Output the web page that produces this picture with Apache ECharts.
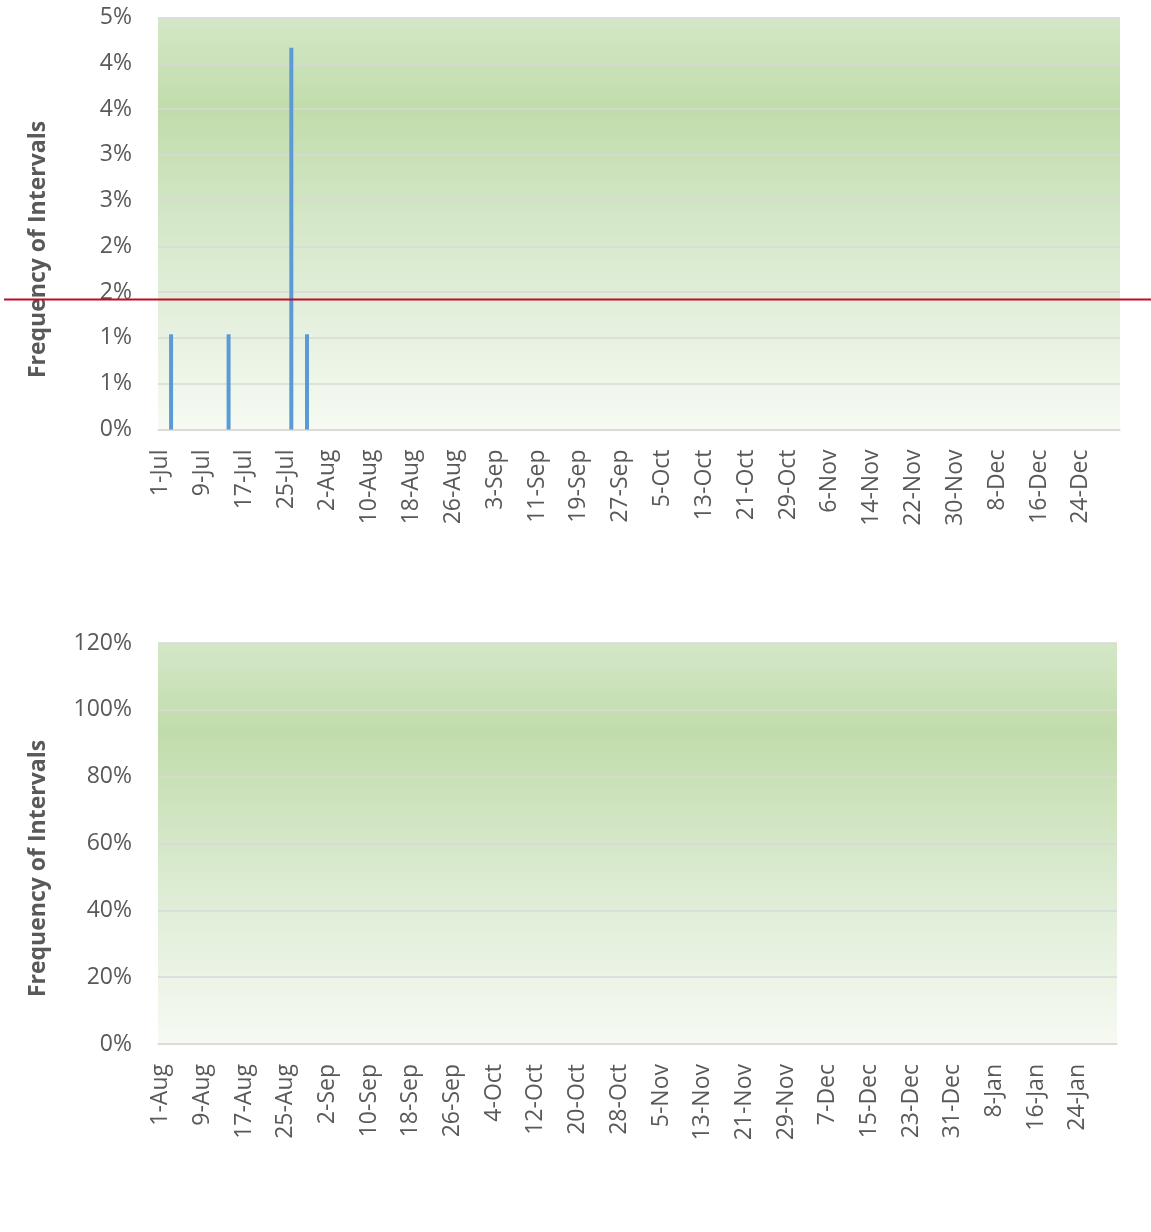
<!DOCTYPE html>
<html>
<head>
<meta charset="utf-8">
<title>Frequency of Intervals</title>
<script src="https://cdn.jsdelivr.net/npm/echarts@6/dist/echarts.min.js"></script>
<style>
  html, body { margin: 0; padding: 0; background: #fff; }
  #chart { width: 1151px; height: 1232px; }
</style>
</head>
<body>
<div id="chart"></div>
<script>
// --- data ---
const monthNames = ['Jan', 'Feb', 'Mar', 'Apr', 'May', 'Jun', 'Jul', 'Aug', 'Sep', 'Oct', 'Nov', 'Dec']

// top chart: 1-Jul .. 31-Dec
const topStart = [2020, 6, 1]
const topDayCount = 184
const topHitDays = ['3-Jul', '14-Jul', '26-Jul', '29-Jul']
const topHitValues = [0.0104, 0.0104, 0.0417, 0.0104]
const topYLabels = ['0%', '1%', '1%', '2%', '2%', '3%', '3%', '4%', '4%', '5%']
const thresholdValue = 0.0142

// bottom chart: 1-Aug .. 31-Jan (no data)
const bottomStart = [2020, 7, 1]
const bottomDayCount = 184
const bottomHitDays = []
const bottomHitValues = []
const bottomYLabels = ['0%', '20%', '40%', '60%', '80%', '100%', '120%']

function dayLabels(start, count) {
  const out = []
  const d = new Date(start[0], start[1], start[2])
  for (let i = 0; i < count; i++) {
    out.push(d.getDate() + '-' + monthNames[d.getMonth()])
    d.setDate(d.getDate() + 1)
  }
  return out
}

const topDays = dayLabels(topStart, topDayCount)
const bottomDays = dayLabels(bottomStart, bottomDayCount)

const textColor = '#595959'
const font = '"Open Sans", "Noto Sans", sans-serif'

const plotBg = new echarts.graphic.LinearGradient(0, 0, 0, 1, [
  { offset: 0, color: '#d4e7c8' },
  { offset: 0.22, color: '#c1dcab' },
  { offset: 0.6, color: '#dcebd2' },
  { offset: 1, color: '#f6faf3' }
])

function xAxisFor(gridIndex, days) {
  return {
    type: 'category',
    gridIndex: gridIndex,
    data: days,
    boundaryGap: true,
    axisLine: { lineStyle: { color: '#d9d9d9', width: 1.5 } },
    axisTick: { show: false },
    axisLabel: {
      interval: 7,
      rotate: 90,
      margin: 20,
      color: textColor,
      fontSize: 23,
      fontFamily: font
    },
    splitLine: { show: false }
  }
}

function yAxisFor(gridIndex, max, interval, labels, namePad) {
  return {
    type: 'value',
    gridIndex: gridIndex,
    min: 0,
    max: max,
    interval: interval,
    name: 'Frequency of Intervals',
    nameLocation: 'middle',
    nameGap: 108,
    nameTextStyle: {
      color: textColor,
      fontSize: 23,
      fontWeight: 'bold',
      fontFamily: font,
      padding: [0, namePad, 0, 0]
    },
    axisLine: { show: false },
    axisTick: { show: false },
    axisLabel: {
      margin: 26,
      color: textColor,
      fontSize: 23,
      fontFamily: font,
      formatter: (v, i) => labels[i]
    },
    splitLine: { lineStyle: { color: '#d9d9d9', width: 1.5 } }
  }
}

function pairs(days, values) {
  return days.map((d, i) => [d, values[i]])
}

const chart = echarts.init(document.getElementById('chart'))

const option = {
  animation: false,
  grid: [
    { left: 158, top: 17.5, right: 31, height: 412, show: true, backgroundColor: plotBg, borderWidth: 0 },
    { left: 158, top: 643, right: 34, height: 401, show: true, backgroundColor: plotBg, borderWidth: 0 }
  ],
  xAxis: [xAxisFor(0, topDays), xAxisFor(1, bottomDays)],
  yAxis: [
    yAxisFor(0, 0.045, 0.005, topYLabels, 52),
    yAxisFor(1, 1.2, 0.2, bottomYLabels, 50)
  ],
  series: [
    {
      name: 'top',
      type: 'bar',
      xAxisIndex: 0,
      yAxisIndex: 0,
      barWidth: 4,
      itemStyle: { color: '#5b9bd5' },
      data: pairs(topHitDays, topHitValues)
    },
    {
      name: 'bottom',
      type: 'bar',
      xAxisIndex: 1,
      yAxisIndex: 1,
      barWidth: 4,
      itemStyle: { color: '#5b9bd5' },
      data: pairs(bottomHitDays, bottomHitValues)
    }
  ]
}

chart.setOption(option)

// threshold line runs across the whole width of the picture
const lineY = chart.convertToPixel({ yAxisIndex: 0 }, thresholdValue)
chart.setOption({
  graphic: [{
    type: 'line',
    z: 100,
    shape: { x1: 4, y1: lineY, x2: 1151, y2: lineY },
    style: { stroke: '#c00a28', lineWidth: 2 }
  }]
})
</script>
</body>
</html>
